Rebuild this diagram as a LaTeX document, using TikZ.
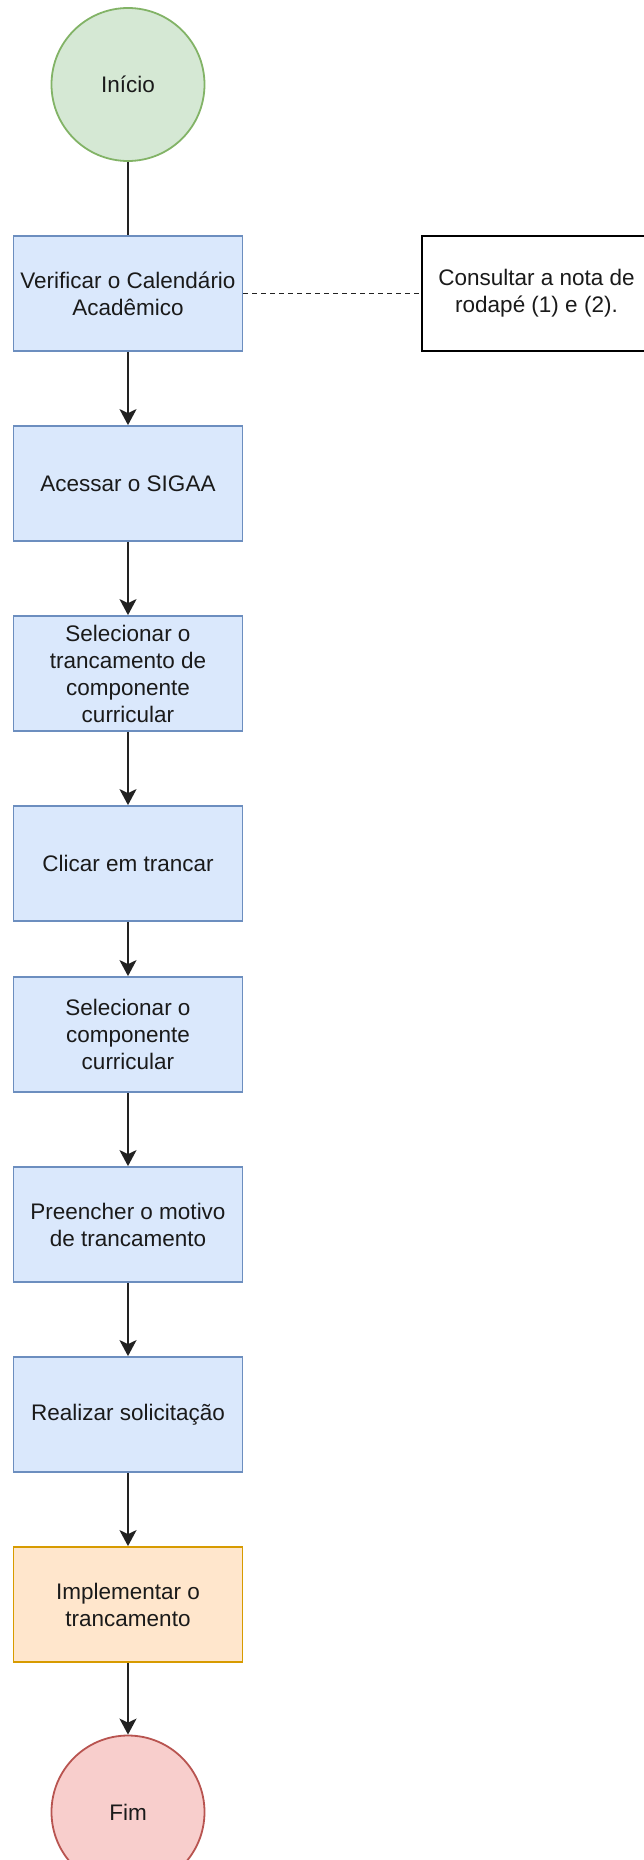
\documentclass[tikz,border=0pt]{standalone}
\usepackage{fontspec}
\setmainfont{Liberation Sans}
\usetikzlibrary{arrows.meta}
\definecolor{gfill}{HTML}{D5E8D4}\definecolor{gline}{HTML}{82B366}
\definecolor{bfill}{HTML}{DAE8FC}\definecolor{bline}{HTML}{6C8EBF}
\definecolor{ofill}{HTML}{FFE6CC}\definecolor{oline}{HTML}{D79B00}
\definecolor{rfill}{HTML}{F8CECC}\definecolor{rline}{HTML}{B85450}
\definecolor{txt}{HTML}{1A1A1A}
\definecolor{conn}{HTML}{222222}
\begin{document}
\begin{tikzpicture}[x=1pt,y=-1pt,
  every node/.style={font=\fontsize{22.5}{27}\selectfont, text=txt, align=center, line width=1.8pt, inner sep=0pt},
  stepbox/.style={rectangle, draw=bline, fill=bfill, minimum width=229pt, minimum height=115pt},
  notebox/.style={rectangle, draw=black, fill=white, minimum width=229pt, minimum height=115pt},
  endbox/.style={rectangle, draw=oline, fill=ofill, minimum width=229pt, minimum height=115pt},
  startnode/.style={circle, draw=gline, fill=gfill, minimum size=153pt},
  stopnode/.style={circle, draw=rline, fill=rfill, minimum size=153pt},
  link/.style={draw=conn, line width=2pt},
  flow/.style={link, -{Stealth[length=16pt,width=17pt,inset=4pt]}}]
\useasboundingbox (0,0) rectangle (644,1860);
\node[startnode] (ini) at (128,84.5) {Início};
\node[stepbox] (v) at (128,293.5) {Verificar o Calendário\\Acadêmico};
\node[notebox] (c) at (536.5,293.5) {Consultar a nota de\\rodapé (1) e (2).};
\node[stepbox] (a) at (128,483.5) {Acessar o SIGAA};
\node[stepbox] (s1) at (128,673.5) {Selecionar o\\trancamento de\\componente\\curricular};
\node[stepbox] (cl) at (128,863.5) {Clicar em trancar};
\node[stepbox] (s2) at (128,1034.5) {Selecionar o\\componente\\curricular};
\node[stepbox] (p) at (128,1224.5) {Preencher o motivo\\de trancamento};
\node[stepbox] (r) at (128,1414.5) {Realizar solicitação};
\node[endbox] (im) at (128,1604.5) {Implementar o\\trancamento};
\node[stopnode] (fim) at (128,1812) {Fim};
\draw[link] (ini) -- (v);
\draw[link, line width=1.8pt, dash pattern=on 4.5pt off 4.5pt] (v) -- (c);
\draw[flow] (v) -- (a);
\draw[flow] (a) -- (s1);
\draw[flow] (s1) -- (cl);
\draw[flow] (cl) -- (s2);
\draw[flow] (s2) -- (p);
\draw[flow] (p) -- (r);
\draw[flow] (r) -- (im);
\draw[flow] (im) -- (fim);
\end{tikzpicture}
\end{document}
